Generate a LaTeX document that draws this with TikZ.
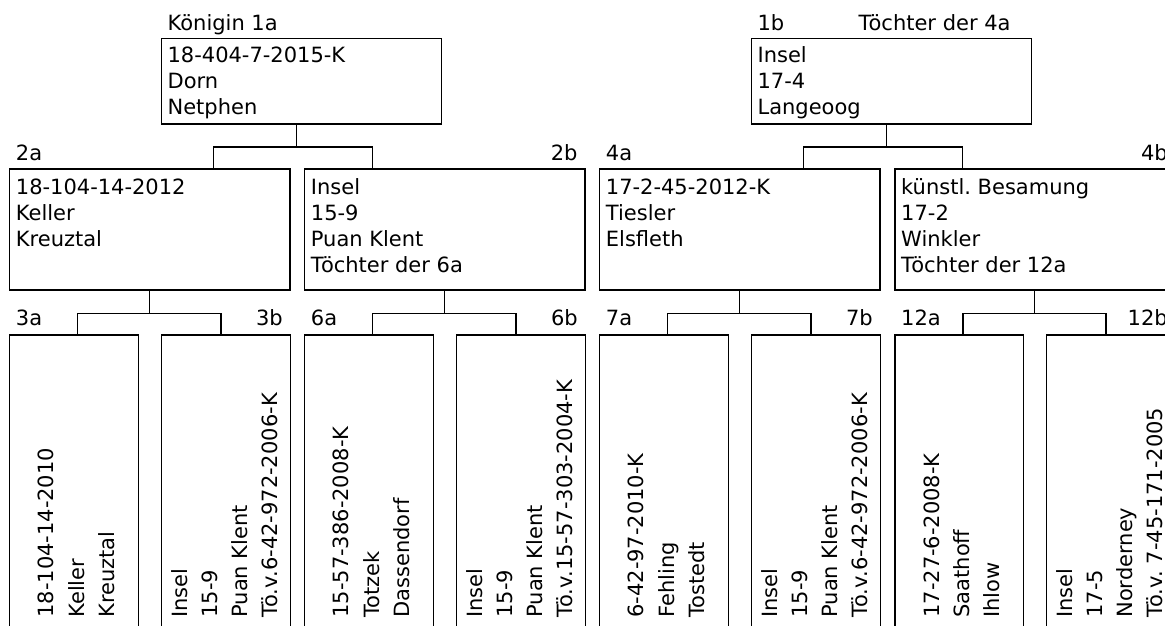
\documentclass[tikz,border=0pt]{standalone}
\usepackage{fontspec}
\setmainfont{DejaVu Sans}
\usetikzlibrary{calc}
\frenchspacing
\tikzset{
  box/.style={draw=black, line width=1.2pt, inner sep=0pt, anchor=north west},
  topbox/.style={box, minimum width=280pt, minimum height=85pt},
  midbox/.style={box, minimum width=280.3pt, minimum height=121pt},
  lowbox/.style={box, minimum width=128.5pt, minimum height=310pt},
  txt/.style={inner sep=0pt, font=\fontsize{21}{26}\selectfont},
  link/.style={draw=black, line width=1.2pt, line join=miter},
}
\newcommand\mkHlines[4]{%
  \foreach \t [count=\i] in {#4} {\node[txt, anchor=base west] (#1-\i) at ($(#2.north west)+(6.7,{#3+26*(\i-1)})$) {\t};}}
\newcommand\mkVlines[4]{%
  \foreach \t [count=\i] in {#4} {\node[txt, anchor=base west, rotate=90] (#1-\i) at ($(#2.north)+({#3+30.2*(\i-1)},283.5)$) {\t};}}
\begin{document}
\begin{tikzpicture}[x=1pt,y=-1pt]
\useasboundingbox (0,0) rectangle (1165,626);
\fill[white] (0,0) rectangle (1165,626);
\clip (0,0) rectangle (1165,626);
% boxes
\node[topbox] (b1a) at (160.7,38.3) {};
\node[topbox] (b1b) at (750.7,38.3) {};
\node[midbox] (b2a) at (9,168.3) {};
\node[midbox] (b2b) at (304,168.3) {};
\node[midbox] (b4a) at (599,168.3) {};
\node[midbox] (b4b) at (894.3,168.3) {};
\node[lowbox] (b3a) at (9,334.3) {};
\node[lowbox] (b3b) at (161,334.3) {};
\node[lowbox] (b6a) at (304,334.3) {};
\node[lowbox] (b6b) at (456,334.3) {};
\node[lowbox] (b7a) at (599,334.3) {};
\node[lowbox] (b7b) at (751,334.3) {};
\node[lowbox] (b12a) at (894.3,334.3) {};
\node[lowbox] (b12b) at (1046,334.3) {};
% labels
\node[txt, anchor=base west] (l1a) at ($(b1a.north west)+(6.7,-7.3)$) {Königin 1a};
\node[txt, anchor=base west] (l1b) at ($(b1b.north west)+(6.7,-7.3)$) {1b};
\node[txt, anchor=base west] (l1bt) at ($(b1b.north west)+(107.6,-7.3)$) {Töchter der 4a};
\node[txt, anchor=base west] (l2a) at ($(b2a.north west)+(6.7,-8.3)$) {2a};
\node[txt, anchor=base east] (l2b) at ($(b2b.north east)+(-7.8,-8.3)$) {2b};
\node[txt, anchor=base west] (l4a) at ($(b4a.north west)+(6.7,-8.3)$) {4a};
\node[txt, anchor=base east] (l4b) at ($(b4b.north east)+(-7.8,-8.3)$) {4b};
\node[txt, anchor=base west] (l3a) at ($(b3a.north west)+(6.7,-8.6)$) {3a};
\node[txt, anchor=base east] (l3b) at ($(b3b.north east)+(-7.8,-8.6)$) {3b};
\node[txt, anchor=base west] (l6a) at ($(b6a.north west)+(6.7,-8.6)$) {6a};
\node[txt, anchor=base east] (l6b) at ($(b6b.north east)+(-7.8,-8.6)$) {6b};
\node[txt, anchor=base west] (l7a) at ($(b7a.north west)+(6.7,-8.6)$) {7a};
\node[txt, anchor=base east] (l7b) at ($(b7b.north east)+(-7.8,-8.6)$) {7b};
\node[txt, anchor=base west] (l12a) at ($(b12a.north west)+(6.7,-8.6)$) {12a};
\node[txt, anchor=base east] (l12b) at ($(b12b.north east)+(-7.8,-8.6)$) {12b};
% box texts
\mkHlines{t1a}{b1a}{24}{18-404-7-2015-K, Dorn, Netphen}
\mkHlines{t1b}{b1b}{24}{Insel, 17-4, Langeoog}
\mkHlines{t2a}{b2a}{26.5}{18-104-14-2012, Keller, Kreuztal}
\mkHlines{t2b}{b2b}{26.5}{Insel, 15-9, Puan Klent, Töchter der 6a}
\mkHlines{t4a}{b4a}{26.5}{17-2-45-2012-K, Tiesler, Elsfleth}
\mkHlines{t4b}{b4b}{26.5}{künstl. Besamung, 17-2, Winkler, Töchter der 12a}
\mkVlines{t3a}{b3a}{-20}{18-104-14-2010, Keller, Kreuztal}
\mkVlines{t3b}{b3b}{-38.5}{Insel, 15-9, Puan Klent, Tö.v.6-42-972-2006-K}
\mkVlines{t6a}{b6a}{-20}{15-57-386-2008-K, Totzek, Dassendorf}
\mkVlines{t6b}{b6b}{-38.5}{Insel, 15-9, Puan Klent, Tö.v.15-57-303-2004-K}
\mkVlines{t7a}{b7a}{-20}{6-42-97-2010-K, Fehling, Tostedt}
\mkVlines{t7b}{b7b}{-38.5}{Insel, 15-9, Puan Klent, Tö.v.6-42-972-2006-K}
\mkVlines{t12a}{b12a}{-20}{17-27-6-2008-K, Saathoff, Ihlow}
\mkVlines{t12b}{b12b}{-38.5}{Insel, 17-5, Norderney, Tö.v. 7-45-171-2005}
% connectors
\draw[link] ($(b1a.south west)+(135.8,0)$) -- ++(0,22.4) coordinate (j1a);
\draw[link] ($(b2a.north west)+(204.7,0)$) |- (j1a) -| ($(b2b.north west)+(68.3,0)$);
\draw[link] ($(b1b.south west)+(135.8,0)$) -- ++(0,22.4) coordinate (j1b);
\draw[link] ($(b4a.north west)+(204.7,0)$) |- (j1b) -| ($(b4b.north west)+(68.3,0)$);
\draw[link] ($(b2a.south west)+(140.3,0)$) -- ++(0,23) coordinate (j2a);
\draw[link] ($(b3a.north west)+(68.7,0)$) |- (j2a) -| ($(b3b.north west)+(60,0)$);
\draw[link] ($(b2b.south west)+(140.3,0)$) -- ++(0,23) coordinate (j2b);
\draw[link] ($(b6a.north west)+(68.7,0)$) |- (j2b) -| ($(b6b.north west)+(60,0)$);
\draw[link] ($(b4a.south west)+(140.3,0)$) -- ++(0,23) coordinate (j4a);
\draw[link] ($(b7a.north west)+(68.7,0)$) |- (j4a) -| ($(b7b.north west)+(60,0)$);
\draw[link] ($(b4b.south west)+(140.3,0)$) -- ++(0,23) coordinate (j4b);
\draw[link] ($(b12a.north west)+(68.7,0)$) |- (j4b) -| ($(b12b.north west)+(60,0)$);
\end{tikzpicture}
\end{document}
